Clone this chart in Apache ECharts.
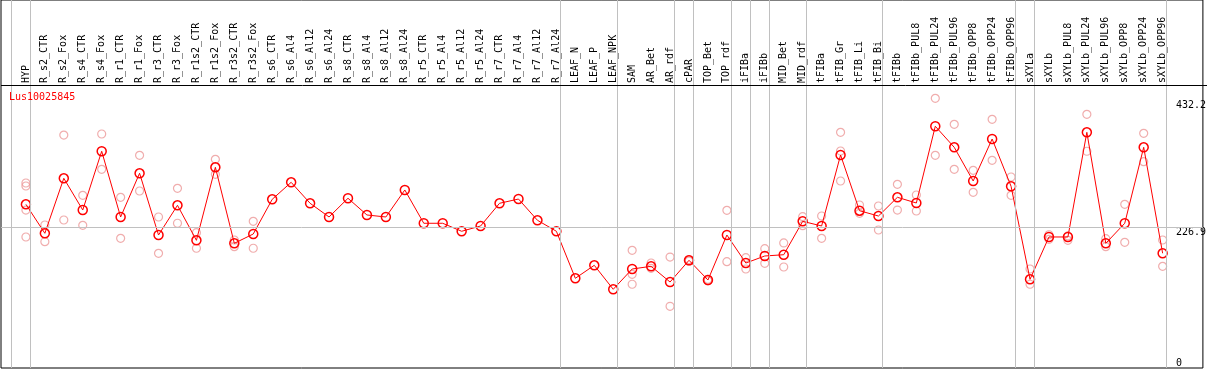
<!DOCTYPE html>
<html>
<head>
<meta charset="utf-8">
<script src="https://cdn.jsdelivr.net/npm/echarts@6/dist/echarts.min.js"></script>
<style>
html,body{margin:0;padding:0;background:#fff;}
#chart{width:1209px;height:370px;}
</style>
</head>
<body>
<div id="chart"></div>
<script>
const geneName = 'Lus10025845';

const categories = ['HYP','R_s2_CTR','R_s2_Fox','R_s4_CTR','R_s4_Fox','R_r1_CTR','R_r1_Fox','R_r3_CTR','R_r3_Fox',
  'R_r1s2_CTR','R_r1s2_Fox','R_r3s2_CTR','R_r3s2_Fox','R_s6_CTR','R_s6_Al4','R_s6_Al12','R_s6_Al24',
  'R_s8_CTR','R_s8_Al4','R_s8_Al12','R_s8_Al24','R_r5_CTR','R_r5_Al4','R_r5_Al12','R_r5_Al24',
  'R_r7_CTR','R_r7_Al4','R_r7_Al12','R_r7_Al24','LEAF_N','LEAF_P','LEAF_NPK','SAM','AR_Bet','AR_rdf',
  'cPAR','TOP_Bet','TOP_rdf','iFIBa','iFIBb','MID_Bet','MID_rdf','tFIBa','tFIB_Gr','tFIB_Li','tFIB_Bi',
  'tFIBb','tFIBb_PUL8','tFIBb_PUL24','tFIBb_PUL96','tFIBb_OPP8','tFIBb_OPP24','tFIBb_OPP96',
  'sXYLa','sXYLb','sXYLb_PUL8','sXYLb_PUL24','sXYLb_PUL96','sXYLb_OPP8','sXYLb_OPP24','sXYLb_OPP96'];

const means = [266.8, 216.5, 312.0, 256.9, 358.9, 244.8, 320.7, 213.5, 265.1, 204.3, 331.1, 199.1, 215.3,
  275.5, 305.0, 268.6, 244.8, 277.3, 248.3, 244.8, 291.7, 233.9, 233.9, 220.0, 229.2, 268.6, 276.0, 239.1, 220.0,
  138.4, 160.9, 119.3, 154.5, 159.2, 131.9, 169.6, 135.4, 213.5, 164.9, 177.1, 179.3, 237.3, 229.2,
  352.4, 255.7, 246.5, 279.0, 269.1, 402.3, 365.8, 307.3, 380.2, 298.1,
  136.6, 210.1, 210.1, 391.8, 199.1, 233.9, 365.8, 181.8];

const replicates = [
  [303.8, 298.6, 256.9, 210.1],
  [230.9, 201.9],
  [387.1, 239.6],
  [282.5, 230.4],
  [388.9, 327.6],
  [279.0, 207.8],
  [351.9, 289.9],
  [244.8, 181.8],
  [294.6, 233.9],
  [217.5, 190.5],
  [345.0, 318.9],
  [204.9, 193.2],
  [237.3, 190.5],
  [], [], [], [], [], [], [], [], [], [], [], [], [], [], [], [],
  [], [], [],
  [187.0, 145.3, 128.0],
  [164.9, 155.7],
  [175.3, 89.8],
  [171.0, 168.0],
  [136.7, 134.0],
  [256.4, 167.2],
  [174.1, 154.5],
  [189.8, 164.4],
  [199.7, 158.0],
  [245.3, 229.7],
  [246.5, 207.8],
  [391.8, 359.4, 307.3],
  [265.6, 251.2],
  [263.9, 222.2],
  [301.6, 256.9],
  [283.0, 255.2],
  [450.9, 351.9],
  [405.7, 327.6],
  [325.9, 287.7],
  [414.4, 343.2],
  [314.2, 282.5],
  [154.5, 128.0],
  [206.1, 214.0],
  [204.3, 212.0],
  [423.1, 358.9],
  [207.1, 193.2],
  [266.8, 200.9],
  [390.1, 340.8],
  [204.9, 159.2]
];

// group separators drawn after these category indices
const groupEnds = [-1, 0, 28, 31, 34, 35, 37, 38, 39, 41, 45, 52, 53, 60];

const yTickLabels = [0, 226.9];
const yTopLabel = [432.2];
const refLineValue = 226.9;

const FONT = 'DejaVu Sans Mono';

const meanData = means.map((v, i) => [i, v]);
const repData = [];
replicates.forEach((arr, i) => arr.forEach(v => repData.push([i, v])));

const chart = echarts.init(document.getElementById('chart'), null, {renderer: 'canvas'});
chart.setOption({
  animation: false,
  backgroundColor: '#fff',
  title: {
    text: geneName, left: 9, top: 92, padding: 0,
    textStyle: {color: '#ff0000', fontFamily: FONT, fontSize: 10, fontWeight: 'normal'}
  },
  grid: {left: 1, right: 2, top: 0, bottom: 2, show: true, borderColor: '#000', borderWidth: 1, backgroundColor: 'transparent'},
  xAxis: {
    type: 'value', position: 'top', offset: -85,
    min: -1.315, max: 62.125,
    axisLine: {show: false}, axisTick: {show: false}, splitLine: {show: false},
    axisLabel: {
      customValues: categories.map((_, i) => i),
      formatter: v => categories[Math.round(v)],
      rotate: 90, margin: 2,
      fontFamily: FONT, fontSize: 10, color: '#000'
    }
  },
  yAxis: [{
    type: 'value', position: 'right', min: -17.36, max: 621.53,
    axisLine: {show: false}, axisTick: {show: false}, splitLine: {show: false},
    axisLabel: {customValues: yTickLabels, inside: true, align: 'left', verticalAlign: 'top', margin: 27,
      fontFamily: FONT, fontSize: 10, color: '#000'}
  }, {
    type: 'value', position: 'right', min: 0, max: 594.6,
    axisLine: {show: false}, axisTick: {show: false}, splitLine: {show: false},
    axisLabel: {customValues: yTopLabel, inside: true, align: 'left', verticalAlign: 'top', margin: 27,
      fontFamily: FONT, fontSize: 10, color: '#000'}
  }],
  graphic: [{
    type: 'line', z: 100,
    shape: {x1: 1, y1: 85.5, x2: 1207, y2: 85.5},
    style: {stroke: '#000', lineWidth: 1}
  }],
  series: [{
    type: 'line', data: [], z: 1,
    markLine: {
      silent: true, symbol: 'none', label: {show: false},
      lineStyle: {color: '#c0c0c0', width: 1, type: 'solid'},
      data: groupEnds.map(i => ({xAxis: i + 0.21})).concat([{yAxis: refLineValue}])
    }
  }, {
    name: 'replicates', type: 'scatter', z: 2,
    data: repData,
    symbol: 'circle', symbolSize: 8,
    itemStyle: {color: 'rgba(0,0,0,0)', borderColor: '#ec9898', borderWidth: 1.2}
  }, {
    name: 'mean', type: 'line', z: 3,
    data: meanData,
    symbol: 'circle', symbolSize: 9,
    lineStyle: {color: '#ff0000', width: 1},
    itemStyle: {color: 'rgba(0,0,0,0)', borderColor: '#ff0000', borderWidth: 1.5}
  }]
});
</script>
</body>
</html>
